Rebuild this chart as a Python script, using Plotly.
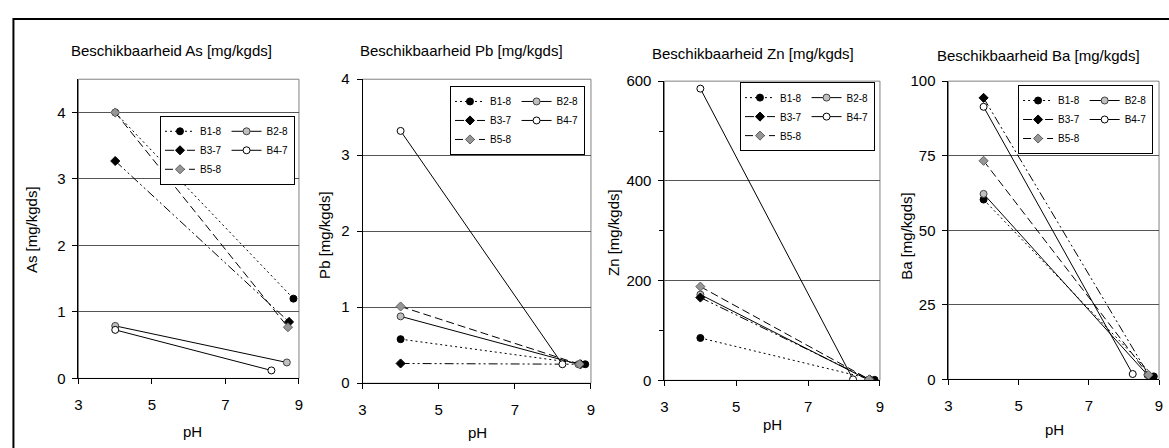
import plotly.graph_objects as go

W, H = 1169, 448

# ---------------- data ----------------
series = ["B1-8", "B2-8", "B3-7", "B4-7", "B5-8"]
ph_start = [4.0, 4.0, 4.0, 4.0, 4.0]
ph_end = [8.85, 8.67, 8.73, 8.25, 8.70]

as_start = [4.0, 0.79, 3.27, 0.73, 4.0]
as_end = [1.2, 0.24, 0.85, 0.12, 0.77]
pb_start = [0.58, 0.88, 0.26, 3.32, 1.01]
pb_end = [0.25, 0.25, 0.25, 0.25, 0.25]
zn_start = [85, 172, 166, 585, 188]
zn_end = [1, 1, 1, 2, 2]
ba_start = [60.3, 62.2, 94.4, 91.4, 73.3]
ba_end = [1.0, 1.5, 1.0, 1.8, 1.5]

metals = ["As", "Pb", "Zn", "Ba"]
values_start = [as_start, pb_start, zn_start, ba_start]
values_end = [as_end, pb_end, zn_end, ba_end]
y_ranges = [[0, 4.5], [0, 4], [0, 600], [0, 100]]
y_dticks = [1, 1, 200, 25]
x_ticks = [3, 5, 7, 9]

# ---------------- styles ----------------
FONT = "Liberation Sans, Arial, sans-serif"
line_dash = {"B1-8": "2px,3px", "B2-8": "solid", "B3-7": "9px,3px,2px,3px,2px,3px",
             "B4-7": "solid", "B5-8": "8px,4px"}
m_symbol = {"B1-8": "circle", "B2-8": "circle", "B3-7": "diamond", "B4-7": "circle", "B5-8": "diamond"}
m_fill = {"B1-8": "black", "B2-8": "#c0c0c0", "B3-7": "black", "B4-7": "white", "B5-8": "#969696"}
m_line = {"B1-8": "black", "B2-8": "#404040", "B3-7": "black", "B4-7": "black", "B5-8": "#606060"}
m_size = {"B1-8": 7, "B2-8": 7, "B3-7": 7, "B4-7": 7, "B5-8": 7}
group_of = {"B1-8": "a", "B2-8": "b", "B3-7": "a", "B4-7": "b", "B5-8": "a"}

# pixel layout of the four plot areas: (x_left, x_right, y_top, y_bottom)
areas = [(75, 297, 73, 384), (361, 591, 73, 389), (665, 882, 75, 386), (951, 1163, 75, 385)]
legend_pos = [(293, 111), (585, 80), (877, 76), (1157, 79)]
title_pos = [(169, 43), (461, 43), (754, 46), (1042, 48)]
ytitle_pos = [(28, 229), (322, 235), (613, 232), (908, 236)]
xtitle_pos = [(190, 439), (477, 440), (774, 432), (1058, 437)]

fig = go.Figure()

for i, metal in enumerate(metals):
    k = i + 1
    sfx = "" if k == 1 else str(k)
    leg = "legend" if k == 1 else f"legend{k}"
    for j, s in enumerate(series):
        fig.add_trace(go.Scatter(
            x=[ph_start[j], ph_end[j]],
            y=[values_start[i][j], values_end[i][j]],
            mode="lines+markers",
            name=s,
            legend=leg,
            legendgroup=f"{metal}_{group_of[s]}",
            line=dict(color="black", width=1, dash=line_dash[s]),
            marker=dict(symbol=m_symbol[s], size=m_size[s], color=m_fill[s],
                        line=dict(color=m_line[s], width=1)),
            xaxis=f"x{sfx}", yaxis=f"y{sfx}",
            showlegend=True,
        ))

TF = 15
layout = dict(
    width=W, height=H,
    margin=dict(l=0, r=0, t=0, b=0),
    paper_bgcolor="white", plot_bgcolor="white",
    font=dict(family=FONT, color="black", size=TF),
    showlegend=True,
)

shapes = []
annotations = []
for i, metal in enumerate(metals):
    k = i + 1
    sfx = "" if k == 1 else str(k)
    xl, xr, yt, yb = areas[i]
    layout[f"xaxis{sfx}"] = dict(
        domain=[xl / W, xr / W], anchor=f"y{sfx}", range=[3, 9],
        tickvals=x_ticks, ticks="outside", ticklen=5, tickcolor="black",
        showline=True, linecolor="black", linewidth=1, showgrid=False,
        zeroline=False, tickfont=dict(size=TF, family=FONT), ticklabelstandoff=8,
    )
    ycfg = dict(
        domain=[1 - yb / H, 1 - yt / H], anchor=f"x{sfx}", range=y_ranges[i],
        dtick=y_dticks[i], tick0=0, ticks="outside", ticklen=5, tickcolor="black",
        showline=True, linecolor="black", linewidth=1, showgrid=True,
        gridcolor="#555555", gridwidth=1, zeroline=False,
        tickfont=dict(size=TF, family=FONT), ticklabelstandoff=4,
    )
    if metal == "Zn":
        ycfg["minor"] = dict(dtick=100, ticks="outside", ticklen=4, tickcolor="black", showgrid=False)
    layout[f"yaxis{sfx}"] = ycfg

    leg = "legend" if k == 1 else f"legend{k}"
    lx, ly = legend_pos[i]
    layout[leg] = dict(
        x=lx / W, y=1 - ly / H, xanchor="right", yanchor="top",
        orientation="h", traceorder="grouped", tracegroupgap=0,
        bgcolor="white", bordercolor="black", borderwidth=1,
        font=dict(size=10, family=FONT), itemwidth=30,
    )

    shapes.append(dict(type="rect", xref=f"x{sfx} domain", yref=f"y{sfx} domain",
                       x0=0, x1=1, y0=0, y1=1, line=dict(color="#808080", width=1),
                       layer="below"))

    tx, ty = title_pos[i]
    annotations.append(dict(text=f"Beschikbaarheid {metal} [mg/kgds]", x=tx / W, y=1 - ty / H,
                            xref="paper", yref="paper", showarrow=False,
                            xanchor="center", yanchor="middle",
                            font=dict(size=TF, family=FONT)))
    ax, ay = ytitle_pos[i]
    annotations.append(dict(text=f"{metal} [mg/kgds]", x=ax / W, y=1 - ay / H,
                            xref="paper", yref="paper", showarrow=False, textangle=-90,
                            xanchor="center", yanchor="middle",
                            font=dict(size=TF, family=FONT)))
    px_, py_ = xtitle_pos[i]
    annotations.append(dict(text="pH", x=px_ / W, y=1 - py_ / H,
                            xref="paper", yref="paper", showarrow=False,
                            xanchor="center", yanchor="middle",
                            font=dict(size=TF, family=FONT)))

# outer frame of the whole figure
shapes.append(dict(type="rect", xref="paper", yref="paper",
                   x0=9.5 / W, x1=1.02, y0=-0.05, y1=1 - 10.5 / H,
                   line=dict(color="black", width=2), layer="above"))

layout["shapes"] = shapes
layout["annotations"] = annotations
fig.update_layout(**layout)

post = (
    "document.documentElement.style.margin='0';"
    "document.documentElement.style.overflow='hidden';"
    "document.body.style.margin='0';"
    "document.body.style.padding='0';"
    "document.body.style.overflow='hidden';"
    "var gd=document.getElementsByClassName('plotly-graph-div')[0];"
    "gd.style.position='fixed';gd.style.left='0px';gd.style.top='0px';"
)

fig.write_html("out.html", config={"displayModeBar": False},
               post_script=post)
